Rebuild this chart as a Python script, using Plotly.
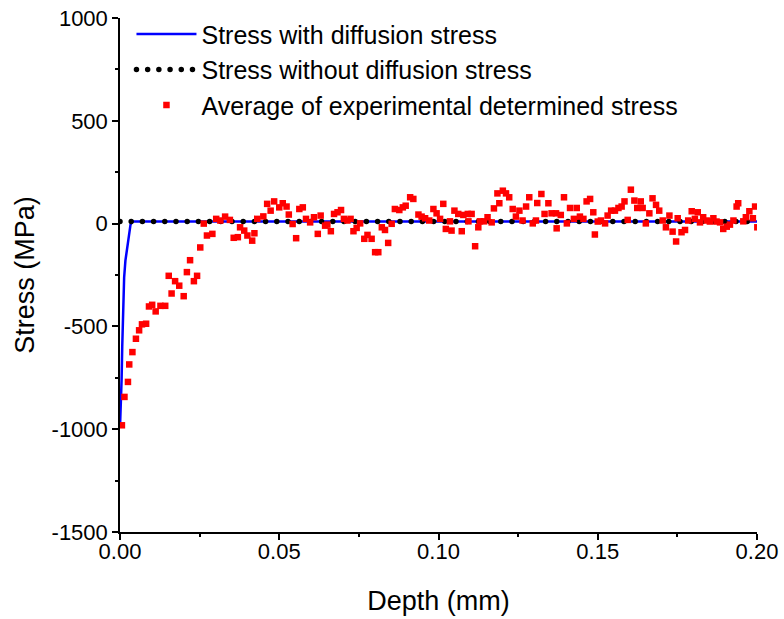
import plotly.graph_objects as go

# --- data ---
with_diff_x = [0.0, 0.0003, 0.0005, 0.0007, 0.001, 0.0013, 0.0017, 0.0022, 0.0028, 0.0033, 0.004, 0.2]
with_diff_y = [-990, -870, -760, -600, -400, -262, -180, -117, -40, -5, 10, 10]

without_diff_x = [0.0, 0.2]
without_diff_y = [10, 10]

exp_x = [
    0.0006, 0.0014, 0.0025, 0.0029, 0.0039, 0.005, 0.006, 0.0069, 0.0082, 0.0091,
    0.0101, 0.0112, 0.0127, 0.0142, 0.0153, 0.0162, 0.0173, 0.0186, 0.02, 0.021,
    0.022, 0.0232, 0.0242, 0.0252, 0.0263, 0.0273, 0.029, 0.0302, 0.0315, 0.033,
    0.0345, 0.0357, 0.037, 0.0377, 0.039, 0.04, 0.0415, 0.0422, 0.0431, 0.045,
    0.0462, 0.0473, 0.0484, 0.05, 0.0511, 0.0523, 0.053, 0.0542, 0.0553, 0.0563,
    0.0574, 0.0584, 0.0597, 0.0609, 0.0621, 0.063, 0.0644, 0.0651, 0.0662, 0.0672,
    0.0683, 0.0694, 0.0703, 0.0714, 0.0724, 0.0733, 0.0743, 0.0754, 0.0767, 0.0777,
    0.079, 0.0801, 0.0811, 0.0822, 0.0832, 0.0842, 0.0853, 0.0863, 0.0877, 0.0888,
    0.0897, 0.0911, 0.0921, 0.0937, 0.0947, 0.0958, 0.0971, 0.0984, 0.0994, 0.1005,
    0.1015, 0.1023, 0.1036, 0.1041, 0.105, 0.1062, 0.1073, 0.1078, 0.1092, 0.1094,
    0.1104, 0.1115, 0.1125, 0.113, 0.1143, 0.1154, 0.1167, 0.1174, 0.1185, 0.1191,
    0.1202, 0.1212, 0.1222, 0.1233, 0.1243, 0.1254, 0.1264, 0.1275, 0.1285, 0.1296,
    0.1306, 0.131, 0.1323, 0.1333, 0.1345, 0.1355, 0.1369, 0.1371, 0.1384, 0.1394,
    0.1403, 0.1413, 0.1425, 0.1434, 0.1444, 0.1455, 0.1465, 0.1476, 0.1486, 0.1491,
    0.15, 0.151, 0.1523, 0.1531, 0.1542, 0.1554, 0.1565, 0.1575, 0.1584, 0.1594,
    0.1604, 0.1615, 0.1624, 0.1635, 0.1641, 0.1651, 0.1662, 0.1672, 0.1683, 0.1693,
    0.1704, 0.1714, 0.1725, 0.1735, 0.1746, 0.1751, 0.1763, 0.1774, 0.1784, 0.1795,
    0.1805, 0.1814, 0.1821, 0.1831, 0.1842, 0.1852, 0.1863, 0.1873, 0.1884, 0.1894,
    0.1905, 0.1915, 0.1926, 0.1936, 0.1941, 0.1957, 0.1965, 0.1976, 0.1987, 0.1994,
    0.2001,
]
exp_y = [
    -981, -843, -770, -685, -625, -560, -519, -490, -487, -403,
    -395, -427, -400, -400, -254, -340, -280, -302, -353, -236,
    -178, -280, -254, -116, 0, -58, -50, 23, 15, 34,
    18, -69, -66, -18, -34, -58, -83, -47, 23, 35,
    96, 63, 108, 79, 99, 83, 44, -2, -71, 71,
    79, 23, 6, 31, -50, 39, -10, -5, -37, 47,
    55, 66, 23, 15, 23, -37, -21, 1, -74, -55,
    -74, -139, -139, -18, -31, -94, -1, 71, 66, 79,
    87, 128, 120, 44, 34, 26, 15, 71, 50, 23,
    96, -26, 11, -34, 63, 47, -37, 42, 47, 11,
    47, -110, -18, 11, 11, 31, 6, 74, 147, 99,
    160, 147, 128, 71, 34, 63, 15, 83, 128, 1,
    15, 100, 144, 47, 99, 50, 50, -23, 42, 128,
    1, 76, 23, 76, 34, 23, 108, 120, 55, -53,
    10, 15, 1, 39, 63, 63, 76, 83, 108, 18,
    165, 112, 76, 108, 76, 1, 50, 123, 91, 63,
    15, -18, 39, -39, -87, 26, -42, -31, 15, 60,
    23, 55, 6, 31, 15, 10, 26, 10, 6, -26,
    -15, -5, 15, 83, 99, 11, 31, 60, 26, 83,
    -18,
]

x_ticks = [0.0, 0.05, 0.10, 0.15, 0.20]
x_ticktext = ["0.00", "0.05", "0.10", "0.15", "0.20"]
y_ticks = [-1500, -1000, -500, 0, 500, 1000]
y_ticktext = ["-1500", "-1000", "-500", "0", "500", "1000"]

FONT = "Liberation Sans, Arial, sans-serif"

fig = go.Figure()
fig.add_trace(go.Scatter(
    x=with_diff_x, y=with_diff_y, mode="lines",
    name="Stress with diffusion stress",
    line=dict(color="#0000FF", width=2.5),
))
fig.add_trace(go.Scatter(
    x=without_diff_x, y=without_diff_y, mode="lines",
    name="Stress without diffusion stress",
    line=dict(color="#000000", width=5.5, dash="0px,11.2px"),
))
fig.add_trace(go.Scatter(
    x=exp_x, y=exp_y, mode="markers",
    name="Average of experimental determined stress",
    marker=dict(color="#FF0000", symbol="square", size=6.5, line=dict(width=0)),
))

fig.update_layout(
    width=784, height=619,
    margin=dict(l=120, r=27, t=18, b=87, autoexpand=False),
    paper_bgcolor="white", plot_bgcolor="white",
    font=dict(family=FONT, color="black", size=22),
    showlegend=True,
    legend=dict(
        x=0.018, y=1.013, xanchor="left", yanchor="top",
        bgcolor="rgba(0,0,0,0)", font=dict(size=25, family=FONT),
        tracegroupgap=0, itemwidth=60,
    ),
)
fig.update_xaxes(
    range=[0, 0.2], showgrid=False, zeroline=False, automargin=False,
    showline=True, linecolor="black", linewidth=1.5,
    ticks="outside", ticklen=6, tickwidth=1.5, tickcolor="black",
    tickvals=x_ticks, ticktext=x_ticktext, tickfont=dict(size=22),
    ticklabelstandoff=-7,
    minor=dict(dtick=0.025, tick0=0, ticks="outside", ticklen=3, tickwidth=1.5, tickcolor="black"),
    title=dict(text="Depth (mm)", font=dict(size=27), standoff=28),
)
fig.update_yaxes(
    range=[-1500, 1000], showgrid=False, zeroline=False, automargin=False,
    showline=True, linecolor="black", linewidth=1.5,
    ticks="outside", ticklen=6, tickwidth=1.5, tickcolor="black",
    tickvals=y_ticks, ticktext=y_ticktext, tickfont=dict(size=22),
    minor=dict(dtick=250, tick0=0, ticks="outside", ticklen=3, tickwidth=1.5, tickcolor="black"),
    title=dict(text="Stress (MPa)", font=dict(size=27), standoff=9),
)

post = """
document.querySelectorAll('path').forEach(function(p){
  var d = p.style.strokeDasharray || '';
  if (d.indexOf('0px') === 0 || d.indexOf('0,') === 0 || d.indexOf('0 ') === 0) {
    p.style.strokeLinecap = 'round';
  }
});
"""
fig.write_html("out.html", post_script=post)
